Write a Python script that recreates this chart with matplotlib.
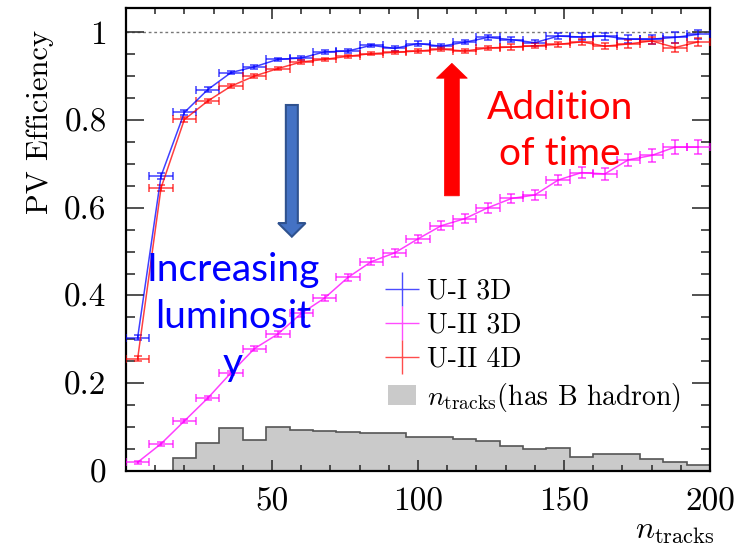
import numpy as np
import matplotlib
matplotlib.use('Agg')
import matplotlib.pyplot as plt
from matplotlib.lines import Line2D
from matplotlib.patches import Patch, FancyArrow

plt.rcParams['font.family'] = 'cmr10'
plt.rcParams['mathtext.fontset'] = 'cm'
plt.rcParams['axes.formatter.use_mathtext'] = True

# bins of 8 tracks, 0..200
bin_edges = np.arange(0, 201, 8)
bin_centers = (bin_edges[:-1] + bin_edges[1:]) / 2

eff_u1_3d = [0.304, 0.672, 0.817, 0.869, 0.908, 0.921, 0.938, 0.941, 0.955, 0.957,
             0.970, 0.963, 0.974, 0.968, 0.977, 0.988, 0.983, 0.976, 0.991, 0.989,
             0.991, 0.984, 0.984, 0.988, 0.995]
err_u1_3d = [0.006, 0.006, 0.005, 0.005, 0.004, 0.004, 0.004, 0.004, 0.004, 0.004,
             0.004, 0.005, 0.005, 0.005, 0.005, 0.006, 0.006, 0.007, 0.007, 0.008,
             0.008, 0.009, 0.010, 0.013, 0.010]

eff_u2_3d = [0.020, 0.062, 0.114, 0.166, 0.224, 0.279, 0.312, 0.359, 0.394, 0.441,
             0.477, 0.497, 0.529, 0.559, 0.575, 0.600, 0.621, 0.629, 0.663, 0.680,
             0.677, 0.709, 0.719, 0.738, 0.738]
err_u2_3d = [0.003, 0.004, 0.004, 0.005, 0.005, 0.006, 0.006, 0.007, 0.007, 0.008,
             0.008, 0.009, 0.009, 0.010, 0.010, 0.011, 0.011, 0.012, 0.012, 0.013,
             0.013, 0.014, 0.014, 0.016, 0.016]

eff_u2_4d = [0.256, 0.645, 0.801, 0.843, 0.877, 0.900, 0.917, 0.932, 0.938, 0.945,
             0.951, 0.954, 0.957, 0.961, 0.957, 0.964, 0.966, 0.969, 0.972, 0.978,
             0.968, 0.973, 0.980, 0.965, 0.978]
err_u2_4d = [0.006, 0.006, 0.005, 0.005, 0.004, 0.004, 0.004, 0.004, 0.004, 0.004,
             0.004, 0.004, 0.005, 0.005, 0.005, 0.005, 0.006, 0.006, 0.006, 0.007,
             0.007, 0.008, 0.008, 0.010, 0.009]

# n_tracks distribution for events with a B hadron (normalised)
hist_b = [0, 0, 0.030, 0.063, 0.097, 0.071, 0.100, 0.093, 0.091, 0.090,
          0.086, 0.086, 0.078, 0.077, 0.072, 0.068, 0.056, 0.051, 0.053, 0.032,
          0.039, 0.039, 0.027, 0.021, 0.014]

series = [
    ('U-I 3D', eff_u1_3d, err_u1_3d, '#0000ff'),
    ('U-II 3D', eff_u2_3d, err_u2_3d, '#ff00ff'),
    ('U-II 4D', eff_u2_4d, err_u2_4d, '#ff0000'),
]

yticks = [0, 0.2, 0.4, 0.6, 0.8, 1]
ytick_labels = ['0', '0.2', '0.4', '0.6', '0.8', '1']
xticks = [50, 100, 150, 200]
xtick_labels = ['50', '100', '150', '200']

fig = plt.figure(figsize=(7.35, 5.52), dpi=100)
ax = fig.add_axes([0.1714, 0.1467, 0.7946, 0.8388])

# histogram
ax.stairs(hist_b, bin_edges, fill=True, color='#cacaca', zorder=1)
ax.stairs(hist_b, bin_edges, color='#555555', lw=1.2, zorder=1.1)

# reference line at 1
ax.axhline(1.0, color='#777777', ls=(0, (2, 2)), lw=1.0, zorder=1.2)

for label, eff, err, col in series:
    ax.errorbar(bin_centers, eff, yerr=err, xerr=4, color=col, alpha=0.75,
                lw=1.1, elinewidth=1.1, capsize=3, capthick=1.1, zorder=3)

ax.set_xlim(0, 200)
ax.set_ylim(0, 1.055)
ax.set_yticks(yticks)
ax.set_yticklabels(ytick_labels)
ax.set_xticks(xticks)
ax.set_xticklabels(xtick_labels)
ax.set_yticks(np.arange(0, 1.05, 0.05), minor=True)
ax.set_xticks(np.arange(0, 201, 10), minor=True)
ax.tick_params(axis='both', which='both', direction='in', top=True, right=True,
               labelsize=24, width=1.2, color='#333333')
ax.tick_params(axis='y', which='major', length=13, pad=14)
ax.tick_params(axis='y', which='minor', length=6.5)
ax.tick_params(axis='x', which='major', length=8, pad=12)
ax.tick_params(axis='x', which='minor', length=4)
for sp in ax.spines.values():
    sp.set_linewidth(1.6)

fig.text(0.055, 0.945, 'PV Efficiency', rotation=90, va='top', ha='center',
         fontsize=22)
fig.text(0.972, 0.01, r'$n_{\mathrm{tracks}}$', ha='right', va='bottom', fontsize=23)

# legend
handles = [Line2D([], [], marker='+', ms=24, mew=1.0, ls='none', color=c, alpha=0.7)
           for _, _, _, c in series]
handles.append(Patch(facecolor='#cacaca', edgecolor='none'))
labels = [s[0] for s in series] + [r'$n_{\mathrm{tracks}}$(has B hadron)']
ax.legend(handles, labels, loc='upper left', bbox_to_anchor=(0.43, 0.44),
          frameon=False, fontsize=20, handlelength=1.0, handletextpad=0.4,
          labelspacing=0.28, borderaxespad=0)

# annotations
ax.add_patch(FancyArrow(56.8, 0.834, 0, -0.300, width=4.1, head_width=9.4,
                        head_length=0.031, length_includes_head=True,
                        fc='#4472c4', ec='#2f528f', lw=1.5, zorder=4))
ax.add_patch(FancyArrow(111.6, 0.627, 0, 0.302, width=5.1, head_width=10.6,
                        head_length=0.034, length_includes_head=True,
                        fc='#ff0000', ec='#ff0000', lw=0.5, zorder=4))
ax.text(36.6, 0.352, 'Increasing\nluminosit\ny', color='#0000ff', fontsize=28,
        family='Lato', ha='center', va='center', multialignment='center',
        linespacing=1.38, zorder=5)
ax.text(148.6, 0.775, 'Addition\nof time', color='#ff0000', fontsize=28,
        family='Lato', ha='center', va='center', multialignment='center',
        linespacing=1.33, zorder=5)

fig.savefig('out.png', dpi=100)
